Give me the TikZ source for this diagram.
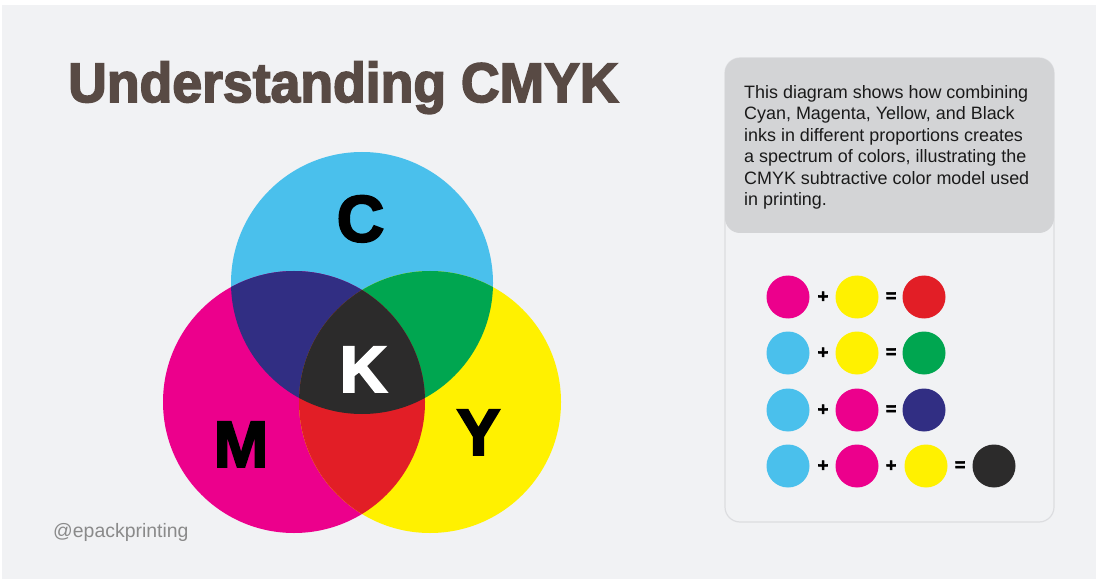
\documentclass[tikz,border=0pt]{standalone}
\usepackage{fontspec}
\setmainfont{Liberation Sans}
\newfontfamily\heavyfont{Liberation Sans}[BoldFeatures={FakeBold=3}]
\definecolor{bgcol}{HTML}{F1F2F4}
\definecolor{cyanC}{HTML}{4AC0EC}
\definecolor{magM}{HTML}{EC008C}
\definecolor{yelY}{HTML}{FFF100}
\definecolor{purCM}{HTML}{312E83}
\definecolor{grnCY}{HTML}{00A650}
\definecolor{redMY}{HTML}{E21E26}
\definecolor{blkK}{HTML}{2C2B2B}
\definecolor{titlecol}{HTML}{584A44}
\definecolor{headcol}{HTML}{D3D4D6}
\definecolor{bordercol}{HTML}{DCDDE0}
\definecolor{wmcol}{HTML}{8A8A8A}
\definecolor{txtcol}{HTML}{1A1A1A}
\tikzset{
  bigcirc/.style={circle, minimum size=262bp, inner sep=0pt},
  inkdot/.style={circle, minimum size=43bp, inner sep=0pt},
  opsym/.style={inner sep=0pt, font=\heavyfont\bfseries\fontsize{18}{18}\selectfont},
  bigletter/.style={anchor=base, inner sep=0pt, font=\heavyfont\bfseries\fontsize{66}{66}\selectfont}
}
\begin{document}
\begin{tikzpicture}[x=1bp,y=-1bp]
\useasboundingbox (0,0) rectangle (1096,579);
\fill[white] (0,0) rectangle (1096,579);
\fill[bgcol] (2,5) rectangle (1096,579);

% title
\node[anchor=base west, inner sep=0pt, text=titlecol, font=\heavyfont\bfseries\fontsize{56}{56}\selectfont] (title) at (68,102) {\scalebox{0.96}[1]{Understanding CMYK}};

% Venn circles
\node[bigcirc, fill=cyanC] (C) at (362,283) {};
\node[bigcirc, fill=magM] (M) at (294,402) {};
\node[bigcirc, fill=yelY] (Y) at (430,402) {};
\begin{scope}
  \clip (C.center) circle[radius=131];
  \fill[purCM] (M.center) circle[radius=131];
  \fill[grnCY] (Y.center) circle[radius=131];
\end{scope}
\begin{scope}
  \clip (M.center) circle[radius=131];
  \fill[redMY] (Y.center) circle[radius=131];
  \clip (C.center) circle[radius=131];
  \fill[blkK] (Y.center) circle[radius=131];
\end{scope}

\node[bigletter, text=black] (lC) at (360.5,241.5) {C};
\node[bigletter, text=white] (lK) at (363.5,392) {K};
\node[bigletter, text=black] (lM) at (241,467) {M};
\node[bigletter, text=black] (lY) at (478.5,455) {Y};

\node[anchor=base west, inner sep=0pt, text=wmcol, font=\fontsize{19.5}{19.5}\selectfont] (wm) at (53,537) {@epackprinting};

% right panel
\draw[bordercol, line width=1.2bp, rounded corners=15bp] (725,58) rectangle (1054,522);
\fill[headcol, rounded corners=15bp] (725,58) rectangle (1054,233);
\node[anchor=north west, inner sep=0pt, align=left, text=txtcol, font=\fontsize{18}{21.6}\selectfont] (desc) at (744,85)
  {This diagram shows how combining\\Cyan, Magenta, Yellow, and Black\\inks in different proportions creates\\a spectrum of colors, illustrating the\\CMYK subtractive color model used\\in printing.};

% row 1: M + Y = R
\node[inkdot, fill=magM] (r1a) at (788,297) {};
\node[opsym] (r1p) at (823,297) {+};
\node[inkdot, fill=yelY] (r1b) at (857,297) {};
\node[opsym] (r1e) at (891,297) {=};
\node[inkdot, fill=redMY] (r1c) at (924,297) {};
% row 2: C + Y = G
\node[inkdot, fill=cyanC] (r2a) at (788,353) {};
\node[opsym] (r2p) at (823,353) {+};
\node[inkdot, fill=yelY] (r2b) at (857,353) {};
\node[opsym] (r2e) at (891,353) {=};
\node[inkdot, fill=grnCY] (r2c) at (924,353) {};
% row 3: C + M = B
\node[inkdot, fill=cyanC] (r3a) at (788,410) {};
\node[opsym] (r3p) at (823,410) {+};
\node[inkdot, fill=magM] (r3b) at (857,410) {};
\node[opsym] (r3e) at (891,410) {=};
\node[inkdot, fill=purCM] (r3c) at (924,410) {};
% row 4: C + M + Y = K
\node[inkdot, fill=cyanC] (r4a) at (788,466) {};
\node[opsym] (r4p) at (823,466) {+};
\node[inkdot, fill=magM] (r4b) at (857,466) {};
\node[opsym] (r4q) at (891,466) {+};
\node[inkdot, fill=yelY] (r4c) at (926,466) {};
\node[opsym] (r4e) at (960,466) {=};
\node[inkdot, fill=blkK] (r4d) at (994,466) {};
\end{tikzpicture}
\end{document}
